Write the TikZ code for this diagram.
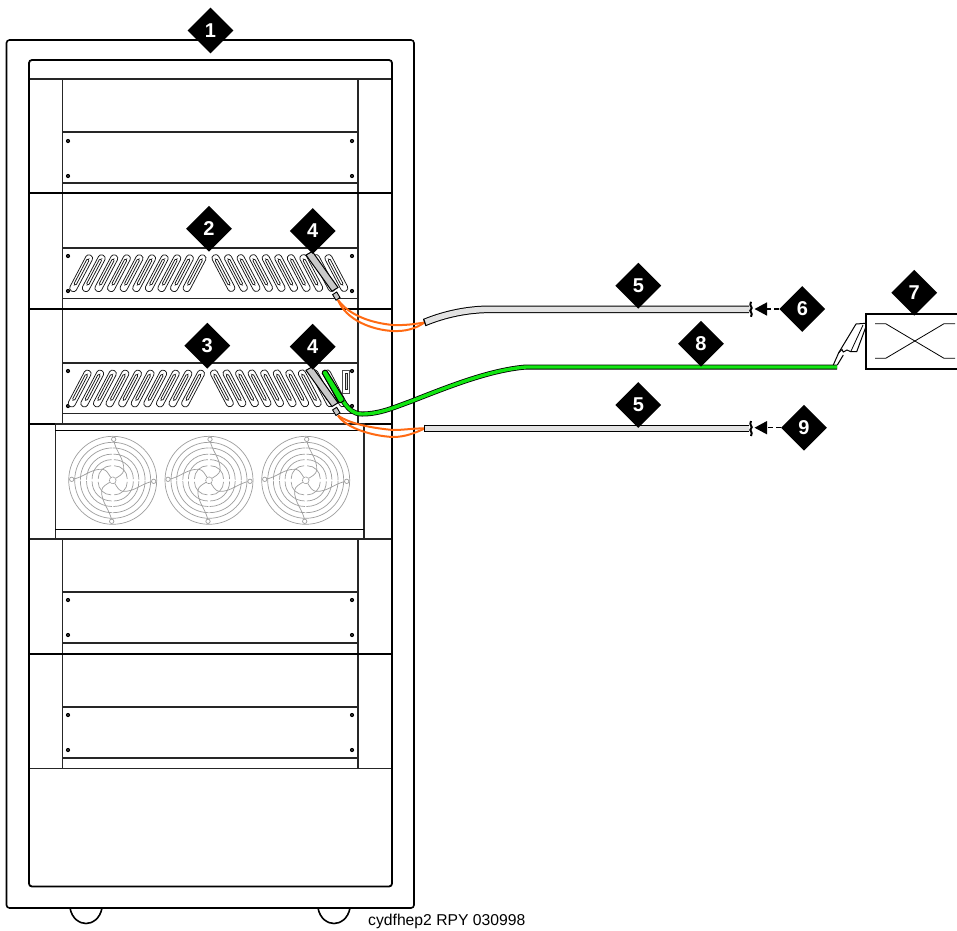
\documentclass[tikz,border=0pt]{standalone}
\usepackage{fontspec}
\setmainfont{Liberation Sans}
\usetikzlibrary{shapes.geometric,arrows.meta}
\definecolor{orng}{HTML}{FF6A13}
\definecolor{grn}{HTML}{12E612}
\definecolor{cab}{HTML}{E2E2E2}
\definecolor{plug}{HTML}{C9C9C9}
\definecolor{fang}{HTML}{9E9E9E}
\tikzset{
  badge/.style={diamond,aspect=1,fill=black,text=white,inner sep=0pt,minimum size=46pt,font=\bfseries\fontsize{20}{20}\selectfont},
  rackb/.style={line width=1.6pt,black},
  rackl/.style={line width=1.4pt,black!85},
  shelf/.style={line width=2.2pt,black},
  clipslot/.style={line width=.75pt,black!90,fill=white},
  cablein/.style={line width=2pt,orng},
  fanline/.style={line width=.7pt,fang},
  lead/.style={line width=1.5pt,black,dash pattern=on 5pt off 3pt,-{Triangle[length=12.5pt,width=13pt,fill=black]}}
}
\newcommand{\panelbox}[2]{%
  \draw[rackl,fill=white] (62.5,#1) rectangle (358,#2);
}
\newcommand{\screwdot}[2]{\fill[black] (#1,#2) circle (2.1pt); \fill[white!70!black] (#1,#2) circle (.6pt);}
\newcommand{\fourdots}[2]{\screwdot{68}{#1}\screwdot{352}{#1}\screwdot{68}{#2}\screwdot{352}{#2}}
\newcommand{\clipL}[2]{%
  \begin{scope}[shift={(#1,#2)},x=1pt,y=1pt,rotate=62.2]
    \draw[clipslot,rounded corners=3.2pt] (-20,-3.8) rectangle (20.5,3.4);
    \draw[clipslot,fill=none,rounded corners=1.2pt] (-13,-1.2) rectangle (16,1.2);
  \end{scope}}
\newcommand{\clipR}[2]{%
  \begin{scope}[shift={(#1,#2)},x=1pt,y=1pt,rotate=-62.2]
    \draw[clipslot,rounded corners=3.2pt] (-20.5,-3.4) rectangle (20,3.8);
    \draw[clipslot,fill=none,rounded corners=1.2pt] (-16,-1.2) rectangle (13,1.2);
  \end{scope}}
\newcommand{\clipset}[2]{% x shift, y shift
  \foreach \k in {0,...,9}{\pgfmathsetmacro{\xx}{80.85+#1+12.6*\k}\clipL{\xx}{273.35+#2}}
  \foreach \k in {0,...,9}{\pgfmathsetmacro{\xx}{223.35+#1+12.55*\k}\clipR{\xx}{273.35+#2}}
}
\newcommand{\fan}[2]{%
  \begin{scope}[shift={(#1,#2)},x=1pt,y=1pt]
    \draw[fanline] (0,0) circle (44);
    \draw[fanline] (0,0) circle (38);
    \foreach \rr/\ee in {32/.5,25.5/1,19.5/1.6,13/2.2}{
      \foreach \aa in {0,90,180,270}{
        \pgfmathsetmacro{\ca}{\aa+45}
        \begin{scope}[shift={(\ca:\ee)}]
          \draw[fanline] (\aa:\rr) arc[start angle=\aa,end angle=\aa+90,radius=\rr];
        \end{scope}
      }
    }
    \foreach \aa in {0,90,180,270}{
      \begin{scope}[rotate=\aa]
        \draw[fanline] (1,41) .. controls (2,30) and (12,22) .. (11,10) .. controls (10.5,6) and (6,4) .. (3,2);
        \draw[fanline,fill=white] (1,41) circle (2.2);
      \end{scope}
    }
    \draw[fanline,fill=white,dash pattern=on 1.5pt off .5pt] (0,0) circle (3.4);
  \end{scope}}
\begin{document}
\begin{tikzpicture}[x=1pt,y=-1pt]
\useasboundingbox (0,0) rectangle (957,930);
% wheels
\coordinate (wa) at (70,908); \coordinate (wb) at (102,908);
\coordinate (wc) at (318,908); \coordinate (wd) at (350,908);
\draw[rackb] (wa) .. controls (72,919) and (80,923.5) .. (86,923.5) .. controls (92,923.5) and (100,919) .. (wb);
\draw[rackb] (wc) .. controls (320,919) and (328,923.5) .. (334,923.5) .. controls (340,923.5) and (348,919) .. (wd);
% cabinet
\draw[rackb,rounded corners=3pt,fill=white] (6.5,40) rectangle (414,908);
\draw[rackl] (29,79) -- (392,79);
\foreach \aa/\bb in {79/424,539/768.5}{
  \draw[rackl] (62.5,\aa) -- (62.5,\bb);
  \draw[rackl] (358,\aa) -- (358,\bb);
}
\draw[shelf] (29,193) -- (392,193);
\draw[shelf] (29,309) -- (392,309);
\draw[shelf] (29,424) -- (392,424);
\draw[rackl] (29,539) -- (392,539);
\draw[shelf] (29,654) -- (392,654);
\draw[rackl] (29,768.5) -- (392,768.5);
\draw[rackb,line width=1.8pt,rounded corners=3pt] (29,60) rectangle (392,886.5);
% panels
\panelbox{132}{183}\fourdots{141}{176}
\panelbox{248}{298.5}\fourdots{256}{291}
\panelbox{363}{413.5}\fourdots{371}{406}
\panelbox{592}{643}\fourdots{600}{635}
\panelbox{707}{758}\fourdots{715}{750}
\clipset{0}{0}
\clipset{-1.5}{115.3}
% fan tray
\draw[rackl,fill=white] (55.3,424) rectangle (364,539);
\draw[line width=1.6pt,black] (55.3,430.5) -- (364,430.5);
\draw[line width=1.6pt,black] (55.3,529.5) -- (364,529.5);
\fan{112.7}{480.3}\fan{209}{480.3}\fan{305.7}{480.3}
% bracket on shelf 3
\draw[line width=.8pt,black!70,fill=white] (342.3,370) rectangle (349.3,393);
\draw[line width=.8pt,black!85,fill=white!85!black] (345,373.5) rectangle (347.5,389.5);
% named cable ends
\coordinate (oa) at (338,300);
\coordinate (ob) at (338,415.5);
\coordinate (ga) at (424.5,322.5);
\coordinate (gb) at (424.5,428.5);
\coordinate (ea) at (749,309.3);
\coordinate (eb) at (749,428.5);
\coordinate (gs) at (343,401);
\coordinate (ge) at (837,367);
% orange leads
\draw[cablein] (oa) .. controls (350,316) and (372,323) .. (393,325) .. controls (405,325.5) and (415,324) .. (ga);
\draw[cablein] (oa) .. controls (346,320) and (372,330) .. (393,331) .. controls (405,331.5) and (415,329) .. (ga);
\draw[cablein] (ob) .. controls (350,424) and (372,428) .. (393,430) .. controls (405,430) and (415,428) .. (gb);
\draw[cablein] (ob) .. controls (346,428) and (372,436) .. (393,437) .. controls (405,437) and (415,433) .. (gb);
% grey cables
\draw[line width=7.6pt,black,line cap=butt] (ga) .. controls (445,314) and (468,309.3) .. (490,309.3) -- (ea);
\draw[line width=5.6pt,cab,line cap=butt] (ga) .. controls (445,314) and (468,309.3) .. (490,309.3) -- (ea);
\draw[line width=7.6pt,black,line cap=butt] (gb) -- (eb);
\draw[line width=5.6pt,cab,line cap=butt] (gb) -- (eb);
\draw[line width=1.2pt,black] (423.6,319) -- (426,326);
\draw[line width=1.2pt,black] (424.5,424.7) -- (424.5,432.3);
% green cable
\draw[line width=5pt,black] (gs) .. controls (349,410) and (354,414) .. (362,414) .. controls (380,414) and (395,407) .. (410,401.7) .. controls (450,386) and (490,370) .. (526,367) -- (ge);
\draw[line width=3.4pt,grn] (gs) .. controls (349,410) and (354,414) .. (362,414) .. controls (380,414) and (395,407) .. (410,401.7) .. controls (450,386) and (490,370) .. (526,367) -- (ge);
% module plugs
\foreach \dd in {0,115.3}{
  \begin{scope}[yshift=-\dd pt]
    \draw[line width=1pt,black,fill=plug] (306,255) -- (312.3,251.5) -- (338,287.5) -- (332,291.2) -- cycle;
    \draw[line width=.9pt,black,fill=plug] (332.6,294.6) -- (336.7,292) -- (340,297.5) -- (336,300.2) -- cycle;
  \end{scope}
}
\draw[line width=1pt,black,fill=grn,rounded corners=1.5pt] (321.5,372) -- (326,369.5) -- (345,400) -- (339.5,403.5) -- cycle;
% end squiggles
\foreach \yy in {309.3,428.5}{
  \begin{scope}[yshift=-\yy pt]
    \draw[line width=2pt,black] (751,-7.5) .. controls (748.5,-3) and (753.5,-2) .. (751,0) .. controls (748.5,2) and (753.5,3) .. (751,7.5);
  \end{scope}
}
% unit 7
\draw[line width=1.8pt,black] (957,314) -- (866,314) -- (866,369) -- (957,369);
\draw[line width=.8pt,black] (875,323.7) -- (885.7,323.7) -- (944,358.3) -- (955,358.3);
\draw[line width=.8pt,black] (875,358.3) -- (885.7,358.3) -- (944,323.7) -- (955,323.7);
\draw[line width=1pt,black] (833.3,365) -- (838.7,352.7) -- (856,324) -- (865.7,323.3);
\draw[line width=1pt,black] (837.3,365) -- (843.3,355);
\draw[line width=1pt,black] (838.7,352.7) -- (842,349.5) -- (843.3,352) -- (847,350) -- (850.7,351.7) -- (856.7,351.7) -- (865.7,327.3);
\draw[line width=.8pt,black] (850.7,351.7) -- (863,325);
% badges
\node[badge] (n1) at (210.5,30.5) {1};
\node[badge] (n2) at (209,228.7) {2};
\node[badge] (n3) at (207.3,345.7) {3};
\node[badge] (n4a) at (312.7,231) {4};
\node[badge] (n4b) at (312.7,346.7) {4};
\node[badge] (n5a) at (638.3,285.7) {5};
\node[badge] (n5b) at (638.3,405) {5};
\node[badge] (n6) at (802.3,309) {6};
\node[badge] (n7) at (914.2,292.7) {7};
\node[badge] (n8) at (701,343.7) {8};
\node[badge] (n9) at (804,427.7) {9};
\coordinate (ta) at (754.5,309);
\coordinate (tb) at (754.5,427.7);
\draw[lead] (n6.west) -- (ta);
\draw[lead] (n9.west) -- (tb);
\node[anchor=base west,inner sep=0pt,font=\fontsize{15.7}{15.7}\selectfont] (cap) at (368,925.5) {cydfhep2 RPY 030998};
\end{tikzpicture}
\end{document}
